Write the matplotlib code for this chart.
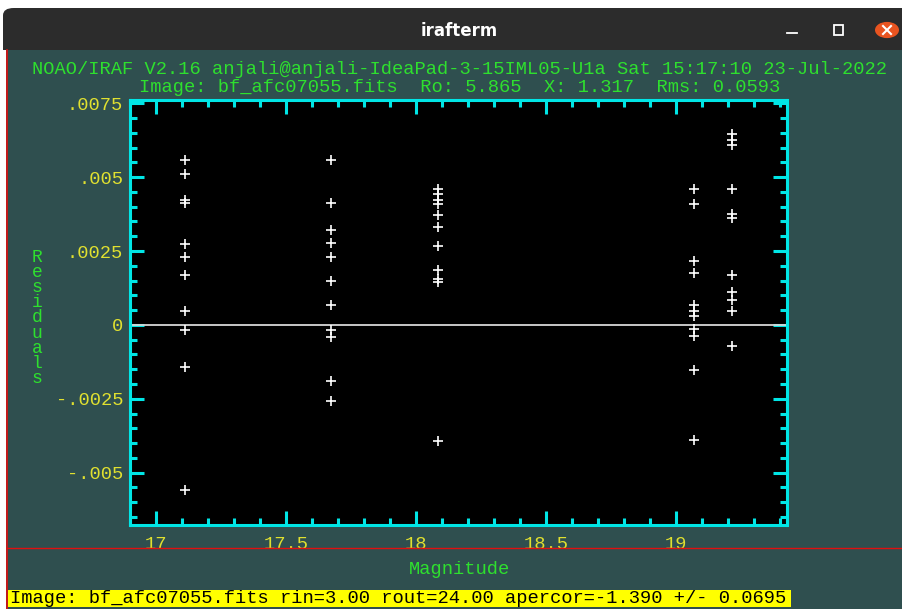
import matplotlib
matplotlib.use('Agg')
import matplotlib.pyplot as plt
from matplotlib.patches import Rectangle, FancyBboxPatch, Circle
from matplotlib.lines import Line2D
from matplotlib.ticker import FixedLocator, FixedFormatter, MultipleLocator

# star groups: mean magnitude of each column and the residuals measured for it
magnitudes = [17.113, 17.674, 18.087, 19.070, 19.218]
residuals = [
    [0.005576, 0.005091, 0.004211, 0.004109, 0.002754, 0.002314,
     0.001694, 0.000474, -0.000169, -0.001423, -0.005589],
    [0.005576, 0.004109, 0.003205, 0.002764, 0.002314, 0.001477,
     0.000678, -0.000169, -0.000407, -0.001911, -0.002588],
    [0.004600, 0.004414, 0.004228, 0.004092, 0.003720, 0.003296,
     0.002669, 0.001856, 0.001568, 0.001467, -0.003919],
    [0.004583, 0.004085, 0.002178, 0.001762, 0.000688, 0.000484,
     0.000291, -0.000142, -0.000379, -0.001538, -0.003909],
    [0.006446, 0.006260, 0.006091, 0.004583, 0.003736, 0.003601,
     0.001680, 0.001128, 0.000857, 0.000461, -0.000711],
]

x_ticks = [17, 17.5, 18, 18.5, 19]
x_tick_labels = ['17', '17.5', '18', '18.5', '19']
y_ticks = [-0.005, -0.0025, 0, 0.0025, 0.005, 0.0075]
y_tick_labels = ['-.005', '-.0025', '0', '.0025', '.005', '.0075']

header = 'NOAO/IRAF V2.16 anjali@anjali-IdeaPad-3-15IML05-U1a Sat 15:17:10 23-Jul-2022'
subheader = 'Image: bf_afc07055.fits  Ro: 5.865  X: 1.317  Rms: 0.0593'
status = 'Image: bf_afc07055.fits rin=3.00 rout=24.00 apercor=-1.390 +/- 0.0695'

W, H = 902, 609
SLATE = '#2f4f4f'
CYAN = '#00e6e6'
GREEN = '#2ee02e'
YELLOW = '#e0e030'
MONO = 'Liberation Mono'

fig = plt.figure(figsize=(W / 100, H / 100), dpi=100, facecolor='white')


def fx(px):
    return px / W


def fy(py):
    return 1 - py / H


def box(x0, y0, x1, y1, color, z=-5):
    r = Rectangle((fx(x0), fy(y1)), fx(x1 - x0), (y1 - y0) / H,
                  transform=fig.transFigure, facecolor=color,
                  edgecolor='none', zorder=z)
    fig.add_artist(r)
    return r


# window frame: title bar with rounded top corners, terminal body below
bar = FancyBboxPatch((fx(3), fy(60)), fx(960), 52 / H,
                     boxstyle='round,pad=0,rounding_size=0.012',
                     transform=fig.transFigure, facecolor='#2c2c2c',
                     edgecolor='none', zorder=-6)
fig.add_artist(bar)
box(3, 50, 902, 609, SLATE)
box(0, 50, 6, 609, 'white')
fig.add_artist(Line2D([fx(6.5), fx(6.5)], [fy(50), 0], transform=fig.transFigure,
                      color='#e01010', lw=1.2, zorder=-4))

fig.text(fx(459), fy(31), 'irafterm', color='white', fontsize=12,
         fontweight='bold', family='DejaVu Sans', ha='center', va='center')
fig.add_artist(Line2D([fx(787), fx(797)], [fy(33), fy(33)],
                      transform=fig.transFigure, color='white', lw=1.3))
fig.add_artist(Rectangle((fx(834), fy(35)), fx(9), 10 / H,
                         transform=fig.transFigure, facecolor='none',
                         edgecolor='white', lw=1.3))
fig.add_artist(Circle((fx(887), fy(30)), fx(12), transform=fig.transFigure,
                      facecolor='#e95420', edgecolor='none'))
fig.add_artist(Line2D([fx(883), fx(891)], [fy(26), fy(34)],
                      transform=fig.transFigure, color='white', lw=1.5))
fig.add_artist(Line2D([fx(883), fx(891)], [fy(34), fy(26)],
                      transform=fig.transFigure, color='white', lw=1.5))

# plot
ax = fig.add_axes([fx(130), fy(525), fx(786.5 - 130), (525 - 100) / H])
ax.set_facecolor('black')
ax.set_xlim(16.9, 19.426)
ax.set_ylim(-0.00677, 0.00761)

for mag, res in zip(magnitudes, residuals):
    ax.plot([mag] * len(res), res, linestyle='none', marker='+',
            markersize=7.8, markeredgewidth=1.2, color='white', zorder=3)
ax.axhline(0, color='#d8d8d8', lw=1.3, zorder=2)

for side in ax.spines.values():
    side.set_color(CYAN)
    side.set_linewidth(2.2)

ax.xaxis.set_major_locator(FixedLocator(x_ticks))
ax.xaxis.set_major_formatter(FixedFormatter(x_tick_labels))
ax.xaxis.set_minor_locator(MultipleLocator(0.1))
ax.yaxis.set_major_locator(FixedLocator(y_ticks))
ax.yaxis.set_major_formatter(FixedFormatter(y_tick_labels))
ax.yaxis.set_minor_locator(MultipleLocator(0.0005))

ax.tick_params(which='both', direction='in', top=True, right=True,
               color=CYAN, width=2.2, labelcolor=YELLOW, labelsize=13.5)
ax.tick_params(which='major', length=10)
ax.tick_params(which='minor', length=5)
ax.tick_params(axis='x', which='major', pad=8)
ax.tick_params(axis='y', which='major', pad=5)
for lab in ax.get_xticklabels() + ax.get_yticklabels():
    lab.set_family(MONO)

# header, axis titles and status line
fig.text(fx(460), fy(69.5), header, color=GREEN, family=MONO, fontsize=13.5,
         ha='center', va='center')
fig.text(fx(460), fy(87.5), subheader, color=GREEN, family=MONO, fontsize=13.5,
         ha='center', va='center')
fig.text(fx(459), fy(570), 'Magnitude', color=GREEN, family=MONO,
         fontsize=13.5, ha='center', va='center')
fig.text(fx(37), fy(318), '\n'.join('Residuals'), color=GREEN, family=MONO,
         fontsize=13, ha='center', va='center', multialignment='center',
         linespacing=0.85)

fig.add_artist(Line2D([fx(7), 1], [fy(547.5), fy(547.5)],
                      transform=fig.transFigure, color='#e01010', lw=1.0,
                      zorder=5))

box(8, 590, 791, 607, '#ffff00', z=-3)
fig.text(fx(10), fy(598.5), status, color='black', family=MONO,
         fontsize=13.5, ha='left', va='center')

fig.savefig('out.png', dpi=100, facecolor=fig.get_facecolor())
